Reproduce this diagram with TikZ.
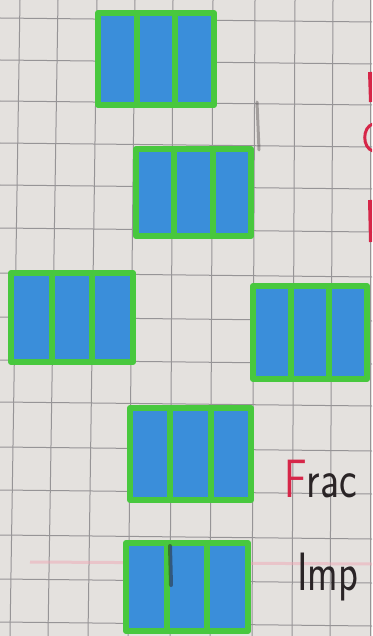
\documentclass[tikz,border=0pt]{standalone}
\usepackage{tikz}
\usepackage{graphicx}
\definecolor{paper}{RGB}{228,225,222}
\definecolor{gridline}{RGB}{150,148,150}
\definecolor{crayonblue}{RGB}{58,142,218}
\definecolor{markergreen}{RGB}{72,200,62}
\definecolor{inkred}{RGB}{214,38,72}
\definecolor{ink}{RGB}{42,36,38}

\tikzset{
  gridrule/.style={gridline,line width=1pt},
  pane/.style={fill=crayonblue,draw=markergreen,line width=6pt,line join=round},
  mullion/.style={markergreen,line width=6pt},
  word/.style={anchor=base west,inner sep=0pt,font=\fontsize{54}{54}\sffamily},
}

\begin{document}
\begin{tikzpicture}[x=1pt,y=-1pt]
  \useasboundingbox (0,0) rectangle (372,636);
  \clip (0,0) rectangle (372,636);
  \fill[paper] (0,0) rectangle (372,636);
  % squared notebook page
  \foreach \t/\b in {20/10,58/48,97/88,135/128,173/170,213/210,255/252,295/292,333/330,370/370}
    \draw[gridrule] (\t,0) -- (\b,636);
  \foreach \y in {18,60,101,143,185,228,273,317,360,402,447,490,535,579,622}
    \draw[gridrule] (0,\y) -- (372,\y+4);
  \draw[inkred!40,line width=3pt,opacity=.5] (30,562) -- (372,564);
  % the six windows: left/top/width/height
  \foreach \l/\t/\w/\h in {98/13/116/92,136/149/115/87,11/273/122/89,
                           253/286/114/93,130/408/121/92,126/543/122/88}{
    \draw[pane] (\l,\t) rectangle ++(\w,\h);
    \draw[mullion] ({\l+\w/3},\t) -- ++(0,\h);
    \draw[mullion] ({\l+2*\w/3},\t) -- ++(0,\h);
  }
  % pencil marks
  \draw[ink,line width=3pt,opacity=.35,line cap=round] (257,102) -- (259,150);
  \draw[ink,line width=4pt,opacity=.5,line cap=round] (170,546) -- (171,585);
  % red letters cut by the page edge
  \draw[inkred,line width=4pt] (370,72) -- (371,102);
  \draw[inkred,line width=3pt] (373,124) .. controls (362,127) and (362,148) .. (373,151);
  \draw[inkred,line width=4pt] (370,200) -- (371,242);
  % words at the right
  \node[word] (fracword) at (284,497)
    {\scalebox{.78}[1]{\textcolor{inkred}{F}\textcolor{ink}{rac}}};
  \node[word,text=ink] (impword) at (297,590) {\scalebox{.76}[1]{Imp}};
\end{tikzpicture}
\end{document}
